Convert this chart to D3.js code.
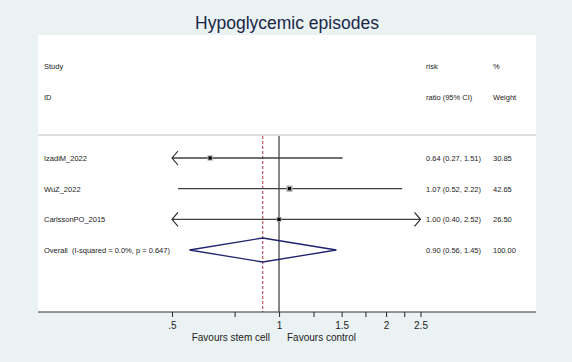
<!DOCTYPE html>
<html lang="en">
<head>
<meta charset="UTF-8">
<title>Hypoglycemic episodes</title>
<script src="https://d3js.org/d3.v7.min.js"></script>
<style>
    body { margin: 0; background: #eaf2f3; }
    text { font-family: "Liberation Sans", Arial, sans-serif; }
</style>
</head>
<body>
<div id="chart"></div>
<script>
    // study rows
    var studies = ["IzadiM_2022", "WuZ_2022", "CarlssonPO_2015"];
    var riskRatio = [0.64, 1.07, 1.00];
    var lowerCI = [0.27, 0.52, 0.40];
    var upperCI = [1.51, 2.22, 2.52];
    var weights = [30.85, 42.65, 26.50];

    // pooled estimate
    var overallLabel = "Overall  (I-squared = 0.0%, p = 0.647)";
    var overallRR = 0.90, overallLo = 0.56, overallHi = 1.45, overallWeight = 100.00;

    // axis
    var tickValues = [0.5, 0.75, 1, 1.25, 1.5, 1.75, 2, 2.25, 2.5];
    var tickLabels = {0.5: ".5", 1: "1", 1.5: "1.5", 2: "2", 2.5: "2.5"};

    var width = 572, height = 362;
    var panel = {left: 38, right: 536, top: 35, bottom: 312};
    var sepY = 135;

    var svg = d3.select("#chart").append("svg")
        .attr("width", width)
        .attr("height", height);

    svg.append("rect").attr("width", width).attr("height", height).attr("fill", "#eaf2f3");
    svg.append("rect")
        .attr("x", panel.left).attr("y", panel.top)
        .attr("width", panel.right - panel.left)
        .attr("height", panel.bottom - panel.top)
        .attr("fill", "#ffffff");

    // title
    svg.append("text")
        .attr("x", (panel.left + panel.right) / 2)
        .attr("y", 29)
        .attr("text-anchor", "middle")
        .attr("font-size", "17.5px")
        .attr("fill", "#1b2747")
        .text("Hypoglycemic episodes");

    var x = d3.scaleLog().domain([0.5, 2.5]).range([172, 420.5]);
    var y = d3.scalePoint().domain(studies.concat(["Overall"])).range([158, 250]);

    var colLabel = 44, colRR = 426, colW = 493;
    var fmt = d3.format(".2f");

    // header
    var header = svg.append("g").attr("font-size", "7.5px").attr("fill", "#222");
    header.append("text").attr("x", colLabel).attr("y", 69).text("Study");
    header.append("text").attr("x", colLabel).attr("y", 100).text("ID");
    header.append("text").attr("x", colRR).attr("y", 69).text("risk");
    header.append("text").attr("x", colRR).attr("y", 100).text("ratio (95% CI)");
    header.append("text").attr("x", colW).attr("y", 69).text("%");
    header.append("text").attr("x", colW).attr("y", 100).text("Weight");

    // separator
    svg.append("line")
        .attr("x1", panel.left).attr("x2", panel.right)
        .attr("y1", sepY).attr("y2", sepY)
        .attr("stroke", "#dedede").attr("stroke-width", 2);

    // null line and overall dashed line
    svg.append("line")
        .attr("x1", x(1)).attr("x2", x(1))
        .attr("y1", sepY + 1).attr("y2", panel.bottom)
        .attr("stroke", "#555").attr("stroke-width", 1.4);
    svg.append("line")
        .attr("x1", x(overallRR)).attr("x2", x(overallRR))
        .attr("y1", sepY + 1).attr("y2", panel.bottom)
        .attr("stroke", "#b03048").attr("stroke-width", 1)
        .attr("stroke-dasharray", "3,2");

    var xMin = x.domain()[0], xMax = x.domain()[1];
    var clampX = function(v) { return x(Math.max(xMin, Math.min(xMax, v))); };
    var line = d3.line();

    var rows = svg.append("g");
    studies.forEach(function(s, i) {
        var cy = y(s);
        rows.append("line")
            .attr("x1", clampX(lowerCI[i])).attr("x2", clampX(upperCI[i]))
            .attr("y1", cy).attr("y2", cy)
            .attr("stroke", "#404040").attr("stroke-width", 1.3);
        // arrows where CI runs off the scale
        if (lowerCI[i] < xMin) {
            var lx = x(xMin);
            rows.append("path")
                .attr("d", line([[lx + 6, cy - 7], [lx, cy], [lx + 6, cy + 7]]))
                .attr("fill", "none").attr("stroke", "#222").attr("stroke-width", 1.1);
        }
        if (upperCI[i] > xMax) {
            var rx = x(xMax);
            rows.append("path")
                .attr("d", line([[rx - 6, cy - 7], [rx, cy], [rx - 6, cy + 7]]))
                .attr("fill", "none").attr("stroke", "#222").attr("stroke-width", 1.1);
        }
        var box = Math.sqrt(weights[i]) * 0.95;
        rows.append("rect")
            .attr("x", x(riskRatio[i]) - box / 2).attr("y", cy - box / 2)
            .attr("width", box).attr("height", box)
            .attr("fill", "#a8a8a8");
        rows.append("rect")
            .attr("x", x(riskRatio[i]) - 1.6).attr("y", cy - 1.6)
            .attr("width", 3.2).attr("height", 3.2)
            .attr("fill", "#000");

        var t = rows.append("g").attr("font-size", "7.5px").attr("fill", "#222");
        t.append("text").attr("x", colLabel).attr("y", cy + 3).text(s);
        t.append("text").attr("x", colRR).attr("y", cy + 3)
            .text(fmt(riskRatio[i]) + " (" + fmt(lowerCI[i]) + ", " + fmt(upperCI[i]) + ")");
        t.append("text").attr("x", colW).attr("y", cy + 3).text(fmt(weights[i]));
    });

    // overall diamond
    var oy = y("Overall");
    svg.append("path")
        .attr("d", line([[x(overallLo), oy], [x(overallRR), oy - 12], [x(overallHi), oy], [x(overallRR), oy + 12]]) + "Z")
        .attr("fill", "none").attr("stroke", "#1f226e").attr("stroke-width", 1.3);
    var ot = svg.append("g").attr("font-size", "7.5px").attr("fill", "#222");
    ot.append("text").attr("x", colLabel).attr("y", oy + 3).attr("xml:space", "preserve").style("white-space", "pre").text(overallLabel);
    ot.append("text").attr("x", colRR).attr("y", oy + 3)
        .text(fmt(overallRR) + " (" + fmt(overallLo) + ", " + fmt(overallHi) + ")");
    ot.append("text").attr("x", colW).attr("y", oy + 3).text(fmt(overallWeight));

    // x axis
    svg.append("line")
        .attr("x1", panel.left).attr("x2", panel.right)
        .attr("y1", panel.bottom).attr("y2", panel.bottom)
        .attr("stroke", "#333").attr("stroke-width", 1.2);
    var axis = d3.axisBottom(x)
        .tickValues(tickValues)
        .tickSize(5)
        .tickFormat(function(d) { return tickLabels[d] || ""; });
    var ax = svg.append("g")
        .attr("transform", "translate(0," + panel.bottom + ")")
        .call(axis);
    ax.select(".domain").remove();
    ax.selectAll(".tick line").attr("stroke", "#333").attr("stroke-width", 1.1);
    ax.selectAll(".tick text")
        .attr("font-family", "Liberation Sans, Arial, sans-serif")
        .attr("font-size", "10px").attr("fill", "#222").attr("dy", "0.9em");

    svg.append("text")
        .attr("x", x(1) - 9).attr("y", 341)
        .attr("text-anchor", "end").attr("font-size", "10px").attr("fill", "#222")
        .text("Favours stem cell");
    svg.append("text")
        .attr("x", x(1) + 8).attr("y", 341)
        .attr("font-size", "10px").attr("fill", "#222")
        .text("Favours control");
</script>
</body>
</html>
